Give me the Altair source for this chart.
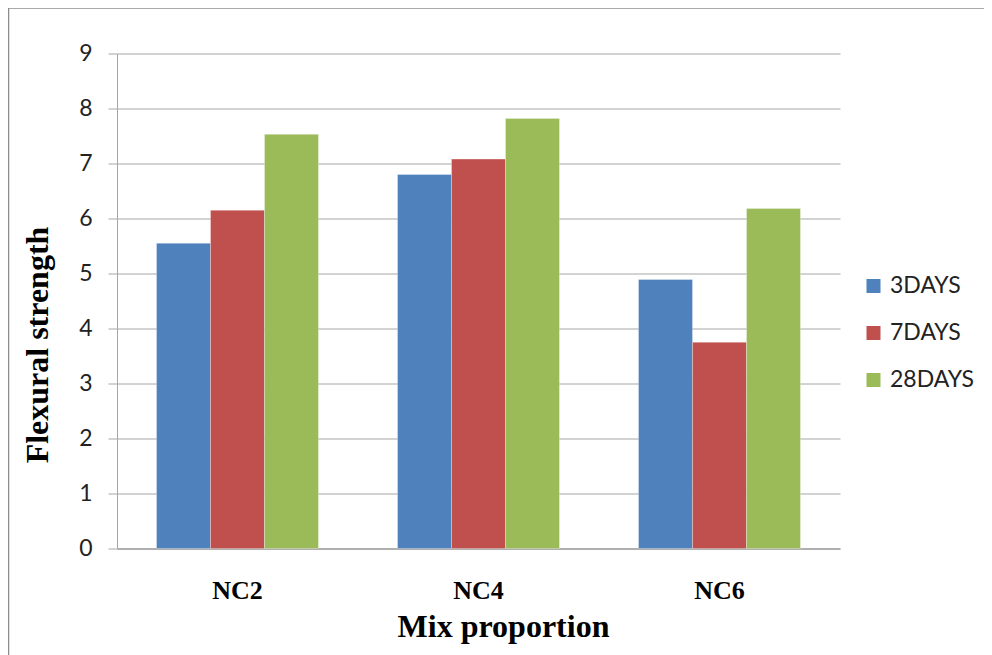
import altair as alt
import pandas as pd

categories = ["NC2", "NC4", "NC6"]
series = ["3DAYS", "7DAYS", "28DAYS"]
values_3days = [5.55, 6.80, 4.89]
values_7days = [6.15, 7.08, 3.75]
values_28days = [7.53, 7.82, 6.18]
colors = ["#4F81BD", "#C0504D", "#9BBB59"]

rows = []
for s, vals in zip(series, [values_3days, values_7days, values_28days]):
    for c, v in zip(categories, vals):
        rows.append({"Mix": c, "Age": s, "Strength": v})
df = pd.DataFrame(rows)

W, H = 723, 495

bars = alt.Chart(df).mark_bar(stroke="#ffffff", strokeWidth=0.6, strokeOpacity=0.5).encode(
    x=alt.X("Mix:N", sort=categories,
            scale=alt.Scale(paddingInner=0.328, paddingOuter=0.164),
            axis=alt.Axis(title="Mix proportion", labelAngle=0, ticks=False,
                          labelFont="Liberation Serif", labelFontWeight="bold",
                          labelFontSize=26, labelColor="#000000", labelPadding=29,
                          domainColor="#8c8c8c", domainWidth=1,
                          titleFont="Liberation Serif", titleFontWeight="bold",
                          titleFontSize=32, titleColor="#000000",
                          titleX=386, titleY=78, titleAlign="center",
                          titleBaseline="middle")),
    xOffset=alt.XOffset("Age:N", sort=series,
                        scale=alt.Scale(paddingInner=0, paddingOuter=0)),
    y=alt.Y("Strength:Q",
            scale=alt.Scale(domain=[0, 9], nice=False),
            axis=alt.Axis(title="Flexural strength", values=list(range(0, 10)),
                          grid=True, gridColor="#a6a6a6", gridWidth=1,
                          tickColor="#a6a6a6", tickSize=9, domainColor="#a6a6a6",
                          labelFont="Lato", labelFontSize=23, labelColor="#222222",
                          labelPadding=16,
                          titleFont="Liberation Serif", titleFontWeight="bold",
                          titleFontSize=32, titleColor="#000000",
                          titleX=-80, titleY=291, titleAngle=-90,
                          titleAlign="center", titleBaseline="middle")),
    color=alt.Color("Age:N", sort=series,
                    scale=alt.Scale(domain=series, range=colors),
                    legend=alt.Legend(title=None, orient="none", legendX=745, legendY=221,
                                      symbolType="square", symbolSize=196,
                                      symbolStrokeWidth=0, labelFont="Lato",
                                      labelFontSize=23, labelColor="#222222",
                                      rowPadding=23, labelOffset=5)),
)

border_df = pd.DataFrame({"a": [0]})
vborder = alt.Chart(border_df).mark_rule(color="#8c8c8c", strokeWidth=1.5).encode(
    x=alt.value(-108.5), y=alt.value(-45.5), y2=alt.value(700)
)
hborder = alt.Chart(border_df).mark_rule(color="#8c8c8c", strokeWidth=1.5).encode(
    x=alt.value(-108.5), x2=alt.value(1000), y=alt.value(-45.5)
)

chart = alt.layer(bars, vborder, hborder).properties(
    width=W, height=H,
    autosize=alt.AutoSizeParams(type="none"),
    padding={"left": 109, "top": 45.5, "right": 144, "bottom": 110},
).configure_view(stroke=None)

chart.save("out.html", embed_options={"renderer": "svg", "actions": False})
